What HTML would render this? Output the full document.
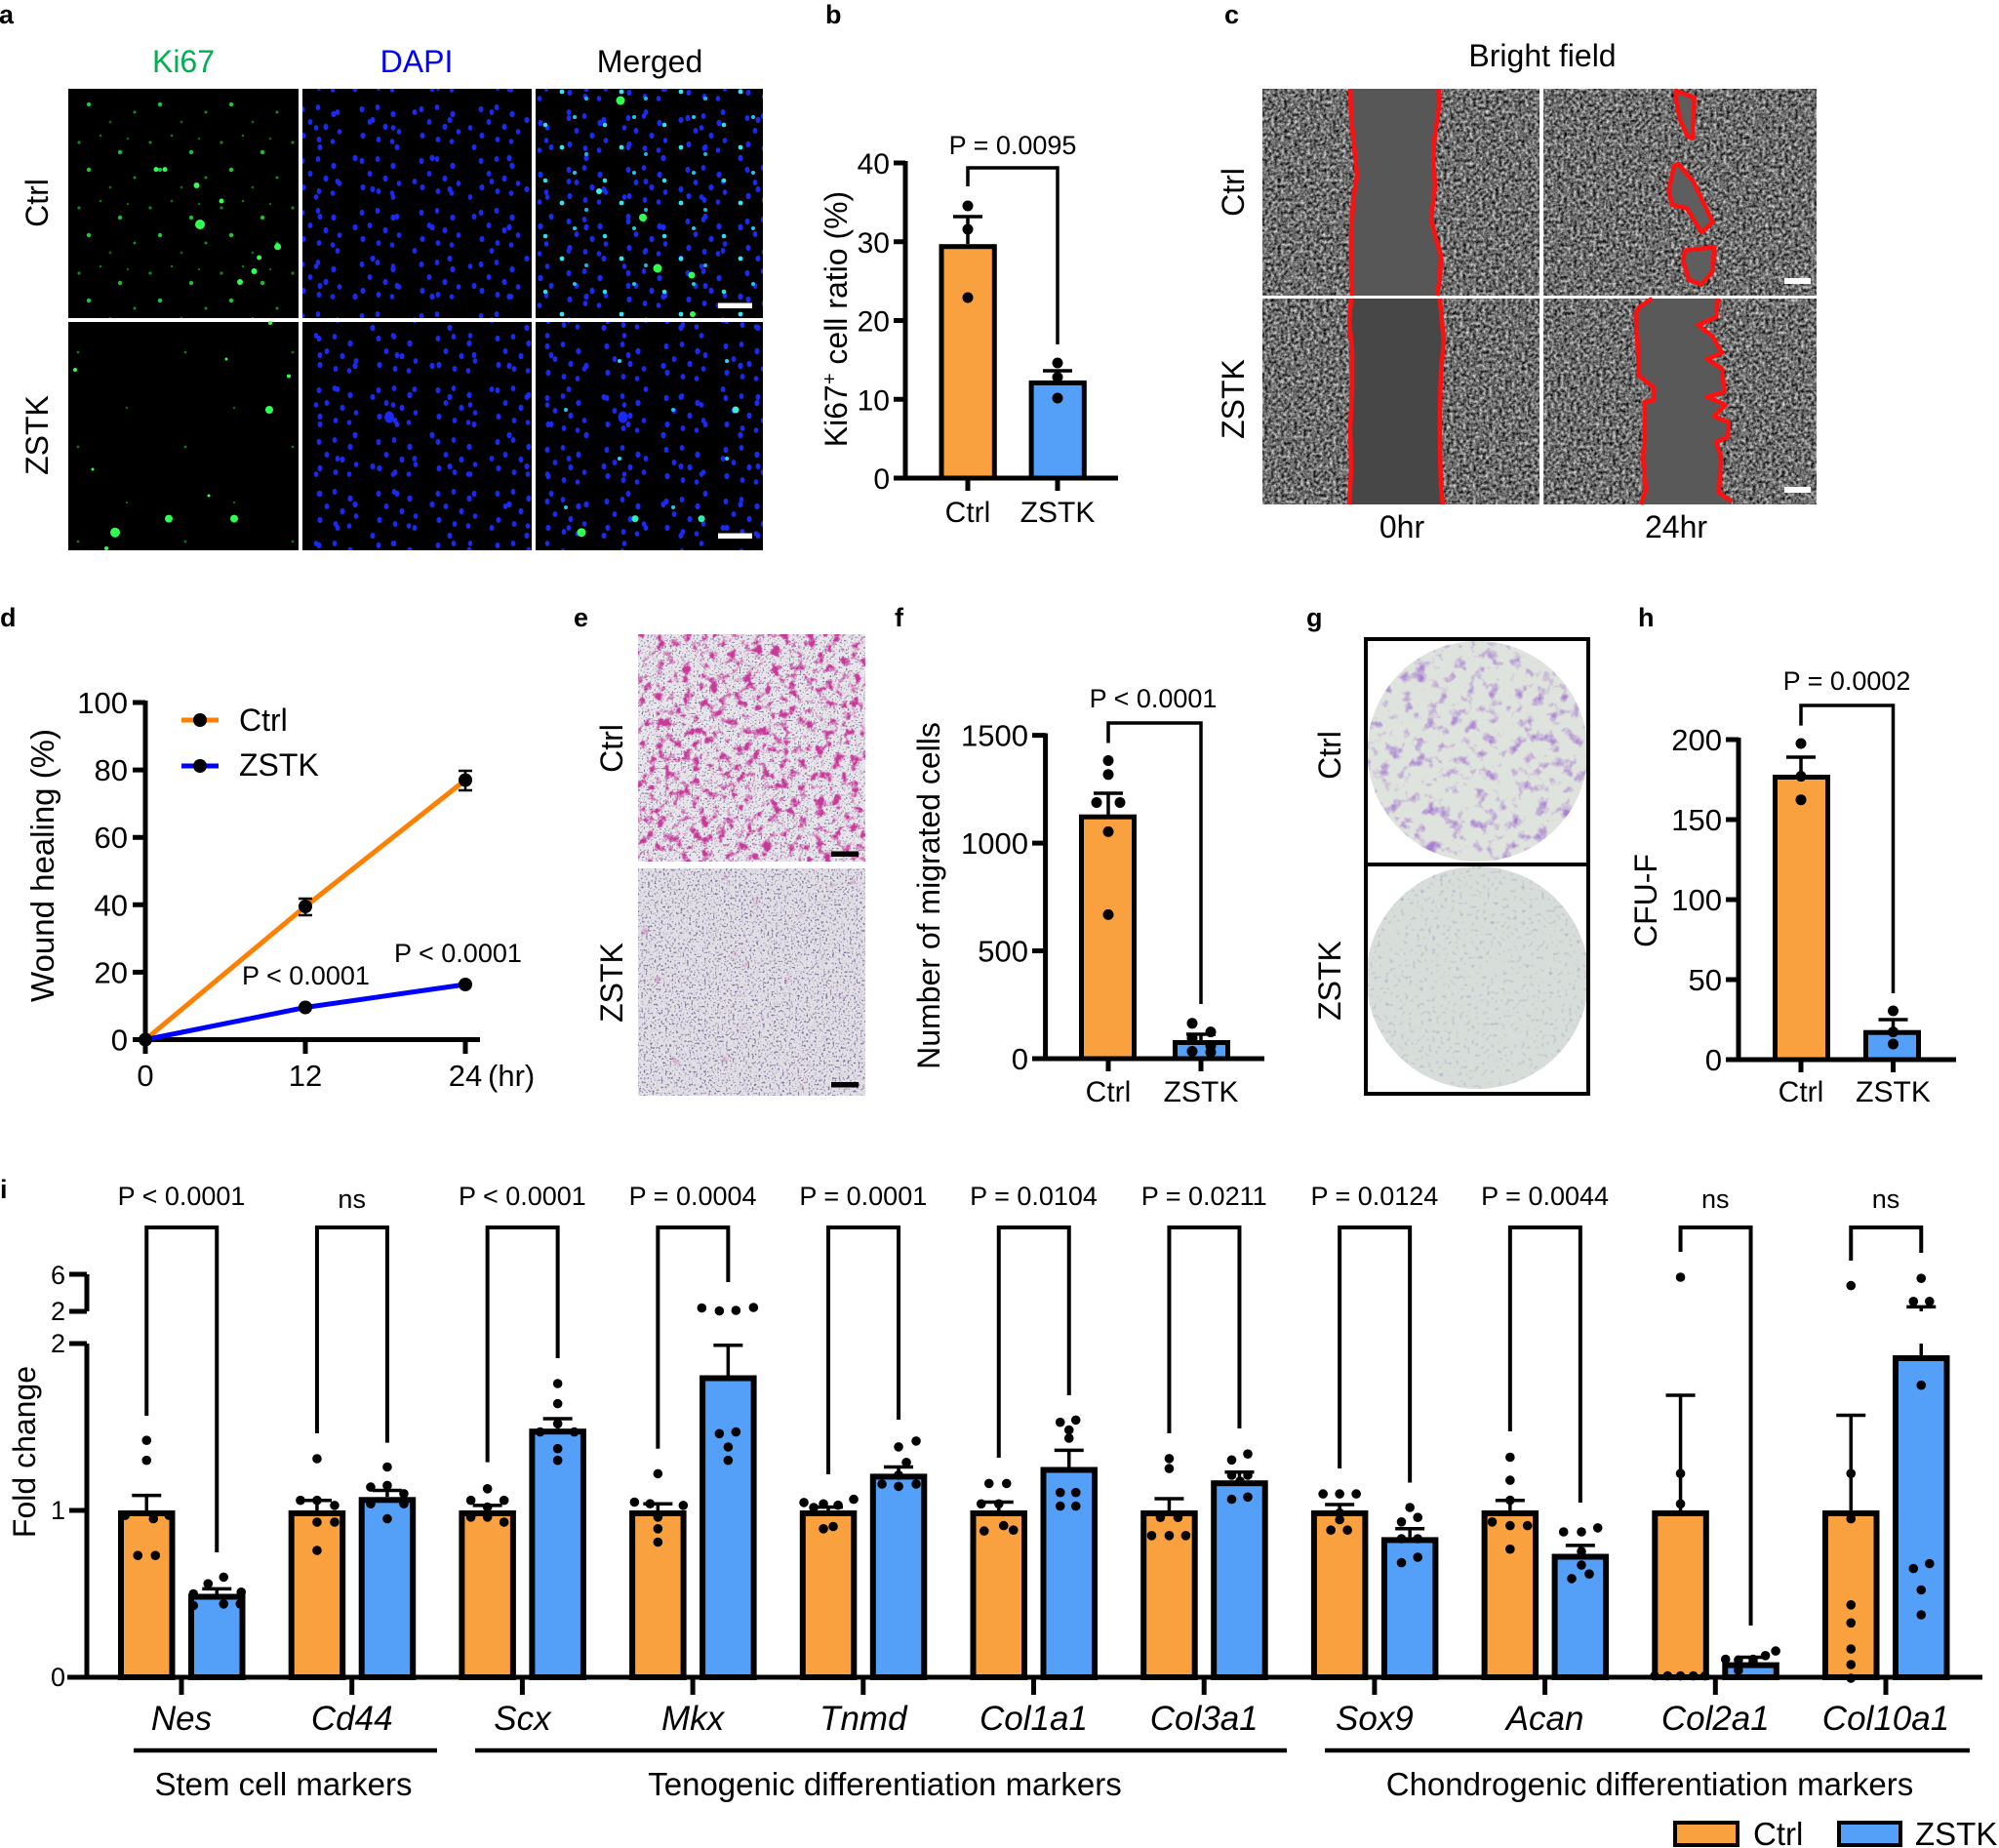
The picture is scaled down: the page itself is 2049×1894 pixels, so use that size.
<!DOCTYPE html>
<html><head><meta charset="utf-8"><style>
html,body{margin:0;padding:0;background:#fff;}
svg{display:block;}
text{font-family:"Liberation Sans",Arial,sans-serif;fill:#000;}
.L{font-weight:bold;font-size:27px;}
</style></head><body>
<svg width="2049" height="1894" viewBox="0 0 2049 1894" xmlns="http://www.w3.org/2000/svg">
<defs>
<filter id="fC" x="0" y="0" width="1" height="1" color-interpolation-filters="sRGB"><feTurbulence type="fractalNoise" baseFrequency="0.3" numOctaves="3" seed="4"/><feColorMatrix type="matrix" values="1.25 0 0 0 -0.2  1.25 0 0 0 -0.2  1.25 0 0 0 -0.2  0 0 0 0 1"/></filter>
<filter id="fE1" x="0" y="0" width="1" height="1" color-interpolation-filters="sRGB"><feTurbulence type="fractalNoise" baseFrequency="0.11" numOctaves="4" seed="9"/><feColorMatrix type="matrix" values="0 0 0 0 0.78  0 0 0 0 0.22  0 0 0 0 0.6  5 0 0 0 -2.6"/></filter>
<filter id="fS" x="0" y="0" width="1" height="1" color-interpolation-filters="sRGB"><feTurbulence type="fractalNoise" baseFrequency="0.55" numOctaves="1" seed="2"/><feColorMatrix type="matrix" values="0 0 0 0 0.45  0 0 0 0 0.45  0 0 0 0 0.55  6 0 0 0 -3.4"/></filter>
<filter id="fS2" x="0" y="0" width="1" height="1" color-interpolation-filters="sRGB"><feTurbulence type="fractalNoise" baseFrequency="0.45" numOctaves="2" seed="13"/><feColorMatrix type="matrix" values="0 0 0 0 0.5  0 0 0 0 0.45  0 0 0 0 0.6  5 0 0 0 -2.7"/></filter>
<filter id="fE2" x="0" y="0" width="1" height="1" color-interpolation-filters="sRGB"><feTurbulence type="fractalNoise" baseFrequency="0.06" numOctaves="2" seed="31"/><feColorMatrix type="matrix" values="0 0 0 0 0.82  0 0 0 0 0.5  0 0 0 0 0.75  5 0 0 0 -3.6"/></filter>
<filter id="fG" x="0" y="0" width="1" height="1" color-interpolation-filters="sRGB"><feTurbulence type="fractalNoise" baseFrequency="0.08" numOctaves="3" seed="21"/><feColorMatrix type="matrix" values="0 0 0 0 0.66  0 0 0 0 0.5  0 0 0 0 0.82  3.5 0 0 0 -1.85"/></filter>
<filter id="fG2" x="0" y="0" width="1" height="1" color-interpolation-filters="sRGB"><feTurbulence type="fractalNoise" baseFrequency="0.25" numOctaves="1" seed="5"/><feColorMatrix type="matrix" values="0 0 0 0 0.66  0 0 0 0 0.64  0 0 0 0 0.76  3 0 0 0 -1.75"/></filter>
<clipPath id="cg1"><circle cx="1514.5" cy="770" r="113"/></clipPath>
<clipPath id="cg2"><circle cx="1514.5" cy="1002" r="114"/></clipPath>
<g id="dd" fill="#1a2af0">
<ellipse cx="5" cy="6" rx="2.4" ry="3.1"/><ellipse cx="21" cy="4" rx="2.3" ry="3"/><ellipse cx="37" cy="11" rx="2.6" ry="3.2"/><ellipse cx="13" cy="19" rx="2.4" ry="3"/><ellipse cx="29" cy="24" rx="2.5" ry="3.2"/><ellipse cx="43" cy="29" rx="2.3" ry="2.9"/><ellipse cx="6" cy="33" rx="2.5" ry="3.1"/><ellipse cx="22" cy="37" rx="2.4" ry="3"/><ellipse cx="36" cy="39" rx="2.3" ry="2.8"/>
</g>
<g id="dd2" fill="#1a2af0">
<ellipse cx="12" cy="9" rx="2.4" ry="3.1"/><ellipse cx="48" cy="20" rx="2.6" ry="3.2"/><ellipse cx="30" cy="44" rx="2.4" ry="3"/><ellipse cx="66" cy="52" rx="2.5" ry="3.1"/><ellipse cx="8" cy="60" rx="2.3" ry="2.9"/>
</g>
<pattern id="pD" width="61" height="53" patternUnits="userSpaceOnUse"><use href="#dd"/></pattern>
<pattern id="pD2" width="61" height="53" patternUnits="userSpaceOnUse" patternTransform="translate(17,23)"><use href="#dd"/></pattern>
<pattern id="pD3" width="61" height="53" patternUnits="userSpaceOnUse" patternTransform="translate(29,9)"><use href="#dd"/></pattern>
<pattern id="pD4" width="61" height="53" patternUnits="userSpaceOnUse" patternTransform="translate(7,31)"><use href="#dd"/></pattern>
<pattern id="pE" width="79" height="71" patternUnits="userSpaceOnUse"><use href="#dd2"/></pattern>
<pattern id="pK" width="73" height="67" patternUnits="userSpaceOnUse">
<circle cx="8" cy="12" r="1.6" fill="#0a8a20"/><circle cx="30" cy="5" r="1.3" fill="#0c7a1c"/><circle cx="50" cy="22" r="2.2" fill="#18c030"/><circle cx="65" cy="48" r="1.5" fill="#0e8f22"/><circle cx="18" cy="40" r="2.2" fill="#1cc834"/><circle cx="40" cy="58" r="1.4" fill="#0a6a18"/><circle cx="58" cy="8" r="1.2" fill="#097018"/>
</pattern>
<pattern id="pK2" width="110" height="97" patternUnits="userSpaceOnUse">
<circle cx="20" cy="30" r="1.2" fill="#0a6a18"/><circle cx="80" cy="70" r="1.4" fill="#0c7a1c"/>
</pattern>
<pattern id="pC" width="61" height="57" patternUnits="userSpaceOnUse">
<circle cx="10" cy="14" r="2.3" fill="#28e0f0"/><circle cx="40" cy="6" r="2" fill="#20c8e8"/><circle cx="27" cy="37" r="2.4" fill="#30e8f0"/><circle cx="52" cy="44" r="2" fill="#1ab8e0"/>
</pattern>
<pattern id="pC2" width="110" height="100" patternUnits="userSpaceOnUse">
<circle cx="30" cy="20" r="2" fill="#20c8e8"/><circle cx="85" cy="70" r="2" fill="#28d8f0"/>
</pattern>
</defs>

<!-- panel letters -->
<text class="L" x="-1" y="24">a</text>
<text class="L" x="846" y="24">b</text>
<text class="L" x="1255" y="24">c</text>
<text class="L" x="0" y="642">d</text>
<text class="L" x="588" y="642">e</text>
<text class="L" x="917" y="642">f</text>
<text class="L" x="1339" y="642">g</text>
<text class="L" x="1679" y="642">h</text>
<text class="L" x="0" y="1228">i</text>

<!-- ===== Panel a ===== -->
<text x="188" y="74" font-size="32" text-anchor="middle" style="fill:#00b050">Ki67</text>
<text x="427" y="74" font-size="32" text-anchor="middle" style="fill:#0000ff">DAPI</text>
<text x="666" y="74" font-size="32" text-anchor="middle">Merged</text>
<text transform="translate(49,208) rotate(-90)" font-size="32" text-anchor="middle">Ctrl</text>
<text transform="translate(49,446) rotate(-90)" font-size="32" text-anchor="middle">ZSTK</text>
<rect x="70" y="91" width="236" height="235" fill="#000"/>
<rect x="310" y="91" width="235" height="235" fill="#000"/>
<rect x="549" y="91" width="233" height="235" fill="#000"/>
<rect x="70" y="330" width="236" height="234" fill="#000"/>
<rect x="310" y="330" width="235" height="234" fill="#000"/>
<rect x="549" y="330" width="233" height="234" fill="#000"/>
<rect x="70" y="91" width="236" height="235" fill="url(#pK)"/>
<rect x="70" y="330" width="236" height="234" fill="url(#pK2)"/>
<rect x="310" y="91" width="235" height="235" fill="url(#pD)"/>
<rect x="310" y="91" width="235" height="235" fill="url(#pE)"/>
<rect x="310" y="330" width="235" height="234" fill="url(#pD2)"/>
<rect x="310" y="330" width="235" height="234" fill="url(#pE)"/>
<rect x="549" y="91" width="233" height="235" fill="url(#pD3)"/>
<rect x="549" y="91" width="233" height="235" fill="url(#pE)"/>
<rect x="549" y="91" width="233" height="235" fill="url(#pC)"/>
<rect x="549" y="330" width="233" height="234" fill="url(#pD4)"/>
<rect x="549" y="330" width="233" height="234" fill="url(#pE)"/>
<rect x="549" y="330" width="233" height="234" fill="url(#pC2)"/>
<g fill="#30ff50">
<circle cx="205" cy="230" r="5"/><circle cx="284.6" cy="252.8" r="3.5"/><circle cx="246" cy="289" r="3"/><circle cx="260.5" cy="278" r="3"/><circle cx="201.5" cy="190" r="3"/><circle cx="160" cy="173.6" r="2.5"/><circle cx="169" cy="173.6" r="2.5"/><circle cx="227" cy="206" r="2.5"/><circle cx="265.6" cy="264" r="2.5"/>
<circle cx="276" cy="420" r="4"/><circle cx="173" cy="531.6" r="4"/><circle cx="240" cy="531.6" r="4"/><circle cx="118" cy="545.7" r="5"/><circle cx="77" cy="379" r="2"/><circle cx="296" cy="385.5" r="2"/><circle cx="232" cy="368" r="1.5"/><circle cx="95" cy="481" r="1.5"/><circle cx="214" cy="508" r="1.5"/><circle cx="277" cy="331" r="2"/><circle cx="109" cy="562" r="2"/>
<circle cx="636" cy="103" r="4.5"/><circle cx="659" cy="223" r="4"/><circle cx="674" cy="275" r="4.5"/><circle cx="709" cy="282" r="3.5"/><circle cx="710" cy="322" r="3"/>
<circle cx="596" cy="545.7" r="4.5"/><circle cx="651" cy="531.6" r="3.5" fill="#30f0b0"/><circle cx="719" cy="531.6" r="3.5" fill="#30f0b0"/><circle cx="754" cy="420" r="3.5" fill="#40f0d0"/><circle cx="614" cy="196" r="3" fill="#40f0e0"/>
</g>
<ellipse cx="399" cy="427.5" rx="5" ry="6" fill="#1a2af0"/>
<ellipse cx="638.5" cy="427.5" rx="5" ry="6" fill="#1a2af0"/>
<rect x="736" y="310.5" width="35" height="5.5" fill="#fff"/>
<rect x="736" y="546.5" width="35" height="5.5" fill="#fff"/>

<!-- ===== Panel b ===== -->
<text x="1038" y="158" font-size="27" text-anchor="middle">P = 0.0095</text>
<path d="M992,191 V172 H1084 V353" stroke="#000" stroke-width="3.5" fill="none"/>
<rect x="965" y="252.7" width="54.3" height="237.3" fill="#f9a03f" stroke="#000" stroke-width="5"/>
<rect x="1057.1" y="392.4" width="54.2" height="97.6" fill="#54a0f8" stroke="#000" stroke-width="5"/>
<g stroke="#000" stroke-width="3.5" fill="none">
<path d="M992,250 V222 M977,222 H1007 M1084,390 V380 M1069,380 H1099"/>
</g>
<g fill="#000"><circle cx="992" cy="211" r="5.5"/><circle cx="992" cy="235" r="5.5"/><circle cx="992" cy="305" r="5.5"/><circle cx="1084" cy="372" r="5.5"/><circle cx="1084" cy="386.6" r="5.5"/><circle cx="1084" cy="408" r="5.5"/></g>
<g stroke="#000" stroke-width="5" fill="none">
<path d="M928,165 V492 M926,490 H1146"/>
<path d="M916,167H928 M916,247.75H928 M916,328.5H928 M916,409.25H928 M916,490H928 M992,490V503 M1084,490V503"/>
</g>
<g font-size="30" text-anchor="end">
<text x="912" y="178">40</text><text x="912" y="258.75">30</text><text x="912" y="339.5">20</text><text x="912" y="420.25">10</text><text x="912" y="501">0</text>
</g>
<text x="992" y="535" font-size="30" text-anchor="middle">Ctrl</text>
<text x="1084" y="535" font-size="30" text-anchor="middle">ZSTK</text>
<text transform="translate(868,327) rotate(-90)" font-size="32" text-anchor="middle">Ki67<tspan baseline-shift="super" font-size="20">+</tspan> cell ratio (%)</text>

<!-- ===== Panel c ===== -->
<text x="1581" y="68" font-size="32" text-anchor="middle">Bright field</text>
<text transform="translate(1275,197) rotate(-90)" font-size="32" text-anchor="middle">Ctrl</text>
<text transform="translate(1275,409) rotate(-90)" font-size="32" text-anchor="middle">ZSTK</text>
<rect x="1294" y="91" width="284" height="212" filter="url(#fC)"/>
<rect x="1582" y="91" width="280" height="212" filter="url(#fC)"/>
<rect x="1294" y="306" width="284" height="211" filter="url(#fC)"/>
<rect x="1582" y="306" width="280" height="211" filter="url(#fC)"/>
<path d="M1384,91 L1385,120 L1388,150 L1391,180 L1387,205 L1385,240 L1385,275 L1386,303 L1473,303 L1476,285 L1477,262 L1472,245 L1467,225 L1471,190 L1469,165 L1470,145 L1475,110 L1474.7,91 Z" fill="#575757"/>
<path d="M1385,306 L1383,330 L1386,360 L1386,400 L1384,440 L1385,480 L1383,517 L1479,517 L1477,500 L1476,460 L1476,420 L1477,380 L1480,350 L1478,330 L1476,306 Z" fill="#474747"/>
<path d="M1693.5,306 L1680,315 L1676.6,322 L1678.5,351.7 L1680,385 L1694.6,396.7 L1695.4,410 L1686,411.7 L1686,451.7 L1684,468 L1687,501.7 L1682,517 L1775,517 L1775,514 L1762,505 L1764,468 L1759,453 L1770.5,448 L1772,433 L1757,426.7 L1768.6,415 L1750,406.7 L1767.5,401.7 L1765,378 L1750,368 L1765,361.7 L1755.5,345 L1740.5,333 L1759,325 L1761,306 Z" fill="#595959"/>
<g fill="#5e5e5e" stroke="#ff1010" stroke-width="4.5" stroke-linejoin="round">
<path d="M1718,93 L1736.7,100 L1734.8,141.7 L1730,140 L1721.7,121.7 L1718,101.7 Z"/>
<path d="M1716,170 L1710.4,195 L1714,210 L1729,213.3 L1744,238 L1755.5,228 L1748,211.7 L1735,185 L1720,168 Z"/>
<path d="M1727,256.7 L1757,253.3 L1755.5,278 L1744,291.7 L1731,286.7 L1725.4,268 Z"/>
</g>
<g fill="none" stroke="#ff1010" stroke-width="4.5" stroke-linejoin="round">
<path d="M1384,91 L1385,120 L1388,150 L1391,180 L1387,205 L1385,240 L1385,275 L1386,303"/>
<path d="M1474.7,91 L1475,110 L1470,145 L1469,165 L1471,190 L1467,225 L1472,245 L1477,262 L1476,285 L1473,303"/>
<path d="M1385,306 L1383,330 L1386,360 L1386,400 L1384,440 L1385,480 L1383,517"/>
<path d="M1476,306 L1478,330 L1480,350 L1477,380 L1476,420 L1476,460 L1477,500 L1479,517"/>
<path d="M1693.5,306 L1680,315 L1676.6,322 L1678.5,351.7 L1680,385 L1694.6,396.7 L1695.4,410 L1686,411.7 L1686,451.7 L1684,468 L1687,501.7 L1682,517"/>
<path d="M1761,306 L1759,325 L1740.5,333 L1755.5,345 L1765,361.7 L1750,368 L1765,378 L1767.5,401.7 L1750,406.7 L1768.6,415 L1757,426.7 L1772,433 L1770.5,448 L1759,453 L1764,468 L1762,505 L1775,514"/>
</g>
<rect x="1829" y="285" width="27" height="6" fill="#fff"/>
<rect x="1829" y="499" width="27" height="6" fill="#fff"/>
<text x="1437" y="551" font-size="32" text-anchor="middle">0hr</text>
<text x="1718" y="551" font-size="32" text-anchor="middle">24hr</text>

<!-- ===== Panel d ===== -->
<text transform="translate(55,887) rotate(-90)" font-size="33" text-anchor="middle">Wound healing (%)</text>
<g stroke="#000" stroke-width="5" fill="none">
<path d="M149,718 V1067.5 M147,1065.5 H492"/>
<path d="M136,720H149 M136,789.1H149 M136,858.2H149 M136,927.3H149 M136,996.4H149 M136,1065.5H149 M149,1065.5V1080 M313,1065.5V1080 M477,1065.5V1080"/>
</g>
<g font-size="31" text-anchor="end">
<text x="131" y="731">100</text><text x="131" y="800.1">80</text><text x="131" y="869.2">60</text><text x="131" y="938.3">40</text><text x="131" y="1007.4">20</text><text x="131" y="1076.5">0</text>
</g>
<g font-size="31" text-anchor="middle">
<text x="149" y="1113">0</text><text x="313" y="1113">12</text><text x="477" y="1113">24</text>
</g>
<text x="500" y="1113" font-size="31">(hr)</text>
<polyline points="149,1065.5 313,929 477,799.5" fill="none" stroke="#ff7f00" stroke-width="5"/>
<polyline points="149,1065.5 313,1032.5 477,1009" fill="none" stroke="#0000ff" stroke-width="5"/>
<g stroke="#000" stroke-width="2.5" fill="none">
<path d="M313,921V938 M306,921H320 M306,938H320 M477,790V810 M470,790H484 M470,810H484"/>
</g>
<g fill="#000"><circle cx="149" cy="1065.5" r="7"/><circle cx="313" cy="929" r="7"/><circle cx="477" cy="799.5" r="7"/><circle cx="313" cy="1032.5" r="7"/><circle cx="477" cy="1009" r="7"/></g>
<path d="M186,738H224" stroke="#ff7f00" stroke-width="5"/><circle cx="205" cy="738" r="7"/>
<path d="M186,785H224" stroke="#0000ff" stroke-width="5"/><circle cx="205" cy="785" r="7"/>
<text x="245" y="749" font-size="32">Ctrl</text>
<text x="245" y="795" font-size="32">ZSTK</text>
<text x="248" y="1009" font-size="27">P &lt; 0.0001</text>
<text x="404" y="986" font-size="27">P &lt; 0.0001</text>

<!-- ===== Panel e ===== -->
<text transform="translate(638,767) rotate(-90)" font-size="32" text-anchor="middle">Ctrl</text>
<text transform="translate(638,1007) rotate(-90)" font-size="32" text-anchor="middle">ZSTK</text>
<rect x="654" y="650" width="233" height="233" fill="#e9e5ec"/>
<rect x="654" y="650" width="233" height="233" filter="url(#fS)"/>
<rect x="654" y="650" width="233" height="233" filter="url(#fE1)"/>
<rect x="654" y="890" width="233" height="233" fill="#e2e0e6"/>
<rect x="654" y="890" width="233" height="233" filter="url(#fS2)"/>
<rect x="654" y="890" width="233" height="233" filter="url(#fE2)"/>
<rect x="852" y="872.5" width="28" height="5.5" fill="#000"/>
<rect x="852" y="1109" width="28" height="5.5" fill="#000"/>

<!-- ===== Panel f ===== -->
<text transform="translate(963,918) rotate(-90)" font-size="32" text-anchor="middle">Number of migrated cells</text>
<text x="1182" y="725" font-size="27" text-anchor="middle">P &lt; 0.0001</text>
<path d="M1136,761.5 V741 H1231 V1029" stroke="#000" stroke-width="3.5" fill="none"/>
<rect x="1108.5" y="837.2" width="54" height="247.8" fill="#f9a03f" stroke="#000" stroke-width="5"/>
<rect x="1204.5" y="1068.5" width="54" height="16.5" fill="#54a0f8" stroke="#000" stroke-width="5"/>
<g stroke="#000" stroke-width="3.5" fill="none">
<path d="M1136,835 V813 M1121,813 H1151 M1231,1066 V1060 M1216,1060 H1246"/>
</g>
<g fill="#000">
<circle cx="1136" cy="779.5" r="5.5"/><circle cx="1136" cy="793.8" r="5.5"/><circle cx="1124" cy="822.5" r="5.5"/><circle cx="1148" cy="822.5" r="5.5"/><circle cx="1136" cy="852.4" r="5.5"/><circle cx="1136" cy="937.4" r="5.5"/>
<circle cx="1222" cy="1048.8" r="5.5"/><circle cx="1241" cy="1057.6" r="5.5"/><circle cx="1222" cy="1064" r="5.5"/><circle cx="1241" cy="1071.7" r="5.5"/><circle cx="1222" cy="1077.5" r="5.5"/><circle cx="1241" cy="1078.4" r="5.5"/>
</g>
<g stroke="#000" stroke-width="5" fill="none">
<path d="M1071.6,751.5 V1087 M1069.5,1085 H1296"/>
<path d="M1058,753.6H1071.6 M1058,864.1H1071.6 M1058,974.5H1071.6 M1058,1085H1071.6 M1136,1085V1098 M1231,1085V1098"/>
</g>
<g font-size="31" text-anchor="end">
<text x="1054" y="764.6">1500</text><text x="1054" y="875.1">1000</text><text x="1054" y="985.5">500</text><text x="1054" y="1096">0</text>
</g>
<text x="1136" y="1129" font-size="30" text-anchor="middle">Ctrl</text>
<text x="1231" y="1129" font-size="30" text-anchor="middle">ZSTK</text>

<!-- ===== Panel g ===== -->
<text transform="translate(1374,774) rotate(-90)" font-size="32" text-anchor="middle">Ctrl</text>
<text transform="translate(1374,1005) rotate(-90)" font-size="32" text-anchor="middle">ZSTK</text>
<circle cx="1514.5" cy="770" r="113" fill="#dfe3dd"/>
<g clip-path="url(#cg1)"><rect x="1400" y="656" width="230" height="230" filter="url(#fG)"/></g>
<circle cx="1514.5" cy="1002" r="114" fill="#d7ddd9"/>
<g clip-path="url(#cg2)"><rect x="1399" y="887" width="232" height="232" filter="url(#fG2)"/></g>
<rect x="1400" y="655" width="228" height="466" fill="none" stroke="#000" stroke-width="4"/>
<path d="M1398,886 H1630" stroke="#000" stroke-width="4"/>

<!-- ===== Panel h ===== -->
<text transform="translate(1698,923) rotate(-90)" font-size="32" text-anchor="middle">CFU-F</text>
<text x="1893" y="707" font-size="27" text-anchor="middle">P = 0.0002</text>
<path d="M1846,743.6 V723 H1940.5 V1018" stroke="#000" stroke-width="3.5" fill="none"/>
<rect x="1819.5" y="796.5" width="54" height="289.5" fill="#f9a03f" stroke="#000" stroke-width="5"/>
<rect x="1912.5" y="1058.2" width="54" height="27.8" fill="#54a0f8" stroke="#000" stroke-width="5"/>
<g stroke="#000" stroke-width="3.5" fill="none">
<path d="M1846,794 V776 M1831,776 H1861 M1940.5,1056 V1045 M1925.5,1045 H1955.5"/>
</g>
<g fill="#000">
<circle cx="1846" cy="762" r="5.5"/><circle cx="1846" cy="795.6" r="5.5"/><circle cx="1846" cy="819.7" r="5.5"/>
<circle cx="1940.5" cy="1036" r="5.5"/><circle cx="1940.5" cy="1057.6" r="5.5"/><circle cx="1940.5" cy="1070" r="5.5"/>
</g>
<g stroke="#000" stroke-width="5" fill="none">
<path d="M1782,756 V1088 M1780,1086 H2005"/>
<path d="M1769,758H1782 M1769,840H1782 M1769,922H1782 M1769,1004H1782 M1769,1086H1782 M1846,1086V1099 M1940.5,1086V1099"/>
</g>
<g font-size="31" text-anchor="end">
<text x="1765" y="769">200</text><text x="1765" y="851">150</text><text x="1765" y="933">100</text><text x="1765" y="1015">50</text><text x="1765" y="1097">0</text>
</g>
<text x="1846" y="1129" font-size="30" text-anchor="middle">Ctrl</text>
<text x="1940.5" y="1129" font-size="30" text-anchor="middle">ZSTK</text>

<!-- ===== Panel i ===== -->
<text transform="translate(36,1488) rotate(-90)" font-size="32" text-anchor="middle">Fold change</text>
<g font-size="27" text-anchor="middle">
<text x="186" y="1235">P &lt; 0.0001</text>
<text x="360.7" y="1238">ns</text>
<text x="535.4" y="1235">P &lt; 0.0001</text>
<text x="710.1" y="1235">P = 0.0004</text>
<text x="884.8" y="1235">P = 0.0001</text>
<text x="1059.5" y="1235">P = 0.0104</text>
<text x="1234.2" y="1235">P = 0.0211</text>
<text x="1408.9" y="1235">P = 0.0124</text>
<text x="1583.6" y="1235">P = 0.0044</text>
<text x="1758.3" y="1238">ns</text>
<text x="1933" y="1238">ns</text>
</g>
<g stroke="#000" stroke-width="4" fill="none">
<path d="M150.25,1451 V1258 H222.25 V1591"/>
<path d="M324.95,1469 V1258 H396.95 V1478.6"/>
<path d="M499.65,1498.6 V1258 H571.65 V1392"/>
<path d="M674.35,1484.7 V1258 H746.35 V1314"/>
<path d="M849.05,1511 V1258 H921.05 V1455"/>
<path d="M1023.75,1494 V1258 H1095.75 V1430"/>
<path d="M1198.45,1469 V1258 H1270.45 V1464"/>
<path d="M1373.15,1505 V1258 H1445.15 V1519.5"/>
<path d="M1547.85,1467 V1258 H1619.85 V1540"/>
<path d="M1722.55,1283 V1258 H1794.55 V1666"/>
<path d="M1897.25,1292 V1258 H1969.25 V1284"/>
</g>
<g stroke="#000" stroke-width="6">
<g fill="#f9a03f">
<rect x="124" y="1551" width="52.5" height="168"/>
<rect x="298.7" y="1551" width="52.5" height="168"/>
<rect x="473.4" y="1551" width="52.5" height="168"/>
<rect x="648.1" y="1551" width="52.5" height="168"/>
<rect x="822.8" y="1551" width="52.5" height="168"/>
<rect x="997.5" y="1551" width="52.5" height="168"/>
<rect x="1172.2" y="1551" width="52.5" height="168"/>
<rect x="1346.9" y="1551" width="52.5" height="168"/>
<rect x="1521.6" y="1551" width="52.5" height="168"/>
<rect x="1696.3" y="1551" width="52.5" height="168"/>
<rect x="1871" y="1551" width="52.5" height="168"/>
</g>
<g fill="#54a0f8">
<rect x="196" y="1636.5" width="52.5" height="82.5"/>
<rect x="370.7" y="1537.3" width="52.5" height="181.7"/>
<rect x="545.4" y="1467.2" width="52.5" height="251.8"/>
<rect x="720.1" y="1412.5" width="52.5" height="306.5"/>
<rect x="894.8" y="1513.4" width="52.5" height="205.6"/>
<rect x="1069.5" y="1506.5" width="52.5" height="212.5"/>
<rect x="1244.2" y="1520.2" width="52.5" height="198.8"/>
<rect x="1418.9" y="1578.4" width="52.5" height="140.6"/>
<rect x="1593.6" y="1595.5" width="52.5" height="123.5"/>
<rect x="1768.3" y="1706.6" width="52.5" height="12.4"/>
<rect x="1943" y="1392" width="52.5" height="327"/>
</g>
</g>
<g stroke="#000" stroke-width="3.5" fill="none">
<path d="M150.25,1548V1532.6 M135.25,1532.6H165.25 M222.25,1633.5V1628.4 M207.25,1628.4H237.25"/>
<path d="M324.95,1548V1537.7 M309.95,1537.7H339.95 M396.95,1534.3V1527.5 M381.95,1527.5H411.95"/>
<path d="M499.65,1548V1542.9 M484.65,1542.9H514.65 M571.65,1464.2V1454 M556.65,1454H586.65"/>
<path d="M674.35,1548V1541.2 M659.35,1541.2H689.35 M746.35,1409.5V1378.7 M731.35,1378.7H761.35"/>
<path d="M849.05,1548V1544.6 M834.05,1544.6H864.05 M921.05,1510.4V1503.5 M906.05,1503.5H936.05"/>
<path d="M1023.75,1548V1539.5 M1008.75,1539.5H1038.75 M1095.75,1503.5V1486.4 M1080.75,1486.4H1110.75"/>
<path d="M1198.45,1548V1536 M1183.45,1536H1213.45 M1270.45,1517.2V1508.7 M1255.45,1508.7H1285.45"/>
<path d="M1373.15,1548V1542 M1358.15,1542H1388.15 M1445.15,1575.4V1566.8 M1430.15,1566.8H1460.15"/>
<path d="M1547.85,1548V1537.7 M1532.85,1537.7H1562.85 M1619.85,1592.5V1583.9 M1604.85,1583.9H1634.85"/>
<path d="M1722.55,1548V1430 M1707.55,1430H1737.55 M1794.55,1703.6V1698.5 M1779.55,1698.5H1809.55"/>
<path d="M1897.25,1548V1450.5 M1882.25,1450.5H1912.25 M1969.25,1389V1377 M1969.25,1344V1339.4 M1954.25,1339.4H1984.25"/>
</g>
<g fill="#000">
<circle cx="150.25" cy="1476.2" r="4.8"/><circle cx="150.25" cy="1496.7" r="4.8"/><circle cx="128.25" cy="1553.1" r="4.8"/><circle cx="157.25" cy="1556.5" r="4.8"/><circle cx="173.25" cy="1553.1" r="4.8"/><circle cx="141.25" cy="1594.2" r="4.8"/><circle cx="159.25" cy="1594.2" r="4.8"/>
<circle cx="229.25" cy="1616.4" r="4.8"/><circle cx="213.25" cy="1623.2" r="4.8"/><circle cx="198.25" cy="1633.5" r="4.8"/><circle cx="247.25" cy="1631.8" r="4.8"/><circle cx="229.25" cy="1643.8" r="4.8"/><circle cx="198.25" cy="1645.5" r="4.8"/><circle cx="246.25" cy="1643.8" r="4.8"/>
<circle cx="324.95" cy="1495" r="4.8"/><circle cx="307.95" cy="1537.7" r="4.8"/><circle cx="324.95" cy="1537.7" r="4.8"/><circle cx="342.95" cy="1542.9" r="4.8"/><circle cx="324.95" cy="1560" r="4.8"/><circle cx="342.95" cy="1560" r="4.8"/><circle cx="324.95" cy="1589" r="4.8"/>
<circle cx="396.95" cy="1503.5" r="4.8"/><circle cx="379.95" cy="1524.1" r="4.8"/><circle cx="396.95" cy="1522.4" r="4.8"/><circle cx="413.95" cy="1530.9" r="4.8"/><circle cx="379.95" cy="1541.2" r="4.8"/><circle cx="413.95" cy="1541.2" r="4.8"/><circle cx="396.95" cy="1556.6" r="4.8"/>
<circle cx="499.65" cy="1525.8" r="4.8"/><circle cx="482.65" cy="1537.7" r="4.8"/><circle cx="516.65" cy="1537.7" r="4.8"/><circle cx="482.65" cy="1554.8" r="4.8"/><circle cx="499.65" cy="1554.8" r="4.8"/><circle cx="516.65" cy="1560" r="4.8"/><circle cx="499.65" cy="1544.6" r="4.8"/>
<circle cx="571.65" cy="1418" r="4.8"/><circle cx="571.65" cy="1438.6" r="4.8"/><circle cx="571.65" cy="1459.1" r="4.8"/><circle cx="553.65" cy="1467.6" r="4.8"/><circle cx="588.65" cy="1467.6" r="4.8"/><circle cx="571.65" cy="1484.7" r="4.8"/><circle cx="571.65" cy="1496.7" r="4.8"/>
<circle cx="674.35" cy="1510.4" r="4.8"/><circle cx="650.35" cy="1539.5" r="4.8"/><circle cx="666.35" cy="1541.2" r="4.8"/><circle cx="700.35" cy="1542.9" r="4.8"/><circle cx="674.35" cy="1554.8" r="4.8"/><circle cx="674.35" cy="1566.8" r="4.8"/><circle cx="674.35" cy="1580.5" r="4.8"/>
<circle cx="719.35" cy="1340.5" r="4.8"/><circle cx="737.35" cy="1343.5" r="4.8"/><circle cx="754.35" cy="1343" r="4.8"/><circle cx="772.35" cy="1340" r="4.8"/><circle cx="737.35" cy="1469.3" r="4.8"/><circle cx="754.35" cy="1467.6" r="4.8"/><circle cx="746.35" cy="1483" r="4.8"/><circle cx="746.35" cy="1496.7" r="4.8"/>
<circle cx="824.05" cy="1539.9" r="4.8"/><circle cx="844.05" cy="1541.3" r="4.8"/><circle cx="859.05" cy="1542.7" r="4.8"/><circle cx="875.05" cy="1536.6" r="4.8"/><circle cx="844.05" cy="1566.8" r="4.8"/><circle cx="854.05" cy="1564.5" r="4.8"/><circle cx="834.05" cy="1545" r="4.8"/>
<circle cx="939.05" cy="1476.9" r="4.8"/><circle cx="921.05" cy="1482.9" r="4.8"/><circle cx="929.05" cy="1498.8" r="4.8"/><circle cx="904.05" cy="1521" r="4.8"/><circle cx="921.05" cy="1511.8" r="4.8"/><circle cx="939.05" cy="1521" r="4.8"/><circle cx="921.05" cy="1523.4" r="4.8"/>
<circle cx="1013.75" cy="1520.4" r="4.8"/><circle cx="1031.75" cy="1520.4" r="4.8"/><circle cx="1005.75" cy="1541.3" r="4.8"/><circle cx="1023.75" cy="1541.3" r="4.8"/><circle cx="1028.75" cy="1563.6" r="4.8"/><circle cx="1008.75" cy="1569.1" r="4.8"/><circle cx="1038.75" cy="1568.2" r="4.8"/>
<circle cx="1086.75" cy="1457.7" r="4.8"/><circle cx="1102.75" cy="1455.4" r="4.8"/><circle cx="1095.75" cy="1465.6" r="4.8"/><circle cx="1095.75" cy="1474" r="4.8"/><circle cx="1086.75" cy="1529.7" r="4.8"/><circle cx="1102.75" cy="1529.7" r="4.8"/><circle cx="1086.75" cy="1543.6" r="4.8"/><circle cx="1102.75" cy="1543.6" r="4.8"/>
<circle cx="1198.45" cy="1494.9" r="4.8"/><circle cx="1198.45" cy="1505.1" r="4.8"/><circle cx="1180.45" cy="1573.8" r="4.8"/><circle cx="1198.45" cy="1573.8" r="4.8"/><circle cx="1215.45" cy="1573.8" r="4.8"/><circle cx="1189.45" cy="1555.2" r="4.8"/><circle cx="1207.45" cy="1555.2" r="4.8"/>
<circle cx="1279" cy="1490.2" r="4.8"/><circle cx="1262.5" cy="1496.3" r="4.8"/><circle cx="1262.5" cy="1512" r="4.8"/><circle cx="1279" cy="1512" r="4.8"/><circle cx="1271" cy="1518" r="4.8"/><circle cx="1262.5" cy="1536.6" r="4.8"/><circle cx="1279" cy="1534.3" r="4.8"/>
<circle cx="1356.15" cy="1531.1" r="4.8"/><circle cx="1373.15" cy="1531.1" r="4.8"/><circle cx="1390.15" cy="1531.1" r="4.8"/><circle cx="1373.15" cy="1550.6" r="4.8"/><circle cx="1364.15" cy="1568.2" r="4.8"/><circle cx="1381.15" cy="1568.2" r="4.8"/><circle cx="1373.15" cy="1557.5" r="4.8"/>
<circle cx="1445.15" cy="1545" r="4.8"/><circle cx="1436.5" cy="1559.8" r="4.8"/><circle cx="1453.2" cy="1555.2" r="4.8"/><circle cx="1436.5" cy="1577" r="4.8"/><circle cx="1453.2" cy="1577" r="4.8"/><circle cx="1436.5" cy="1601.6" r="4.8"/><circle cx="1453.2" cy="1596" r="4.8"/>
<circle cx="1547.85" cy="1493.5" r="4.8"/><circle cx="1547.85" cy="1517.1" r="4.8"/><circle cx="1547.85" cy="1537.6" r="4.8"/><circle cx="1529.5" cy="1559.8" r="4.8"/><circle cx="1547.85" cy="1563.6" r="4.8"/><circle cx="1565.7" cy="1563.6" r="4.8"/><circle cx="1547.85" cy="1587.7" r="4.8"/>
<circle cx="1602.7" cy="1570" r="4.8"/><circle cx="1621" cy="1570" r="4.8"/><circle cx="1637.7" cy="1565.9" r="4.8"/><circle cx="1621" cy="1590" r="4.8"/><circle cx="1611" cy="1617.9" r="4.8"/><circle cx="1629" cy="1613.2" r="4.8"/><circle cx="1621" cy="1604" r="4.8"/>
<circle cx="1722.55" cy="1309" r="4.8"/><circle cx="1722.55" cy="1510.2" r="4.8"/><circle cx="1722.55" cy="1541.3" r="4.8"/><circle cx="1696.1" cy="1717.6" r="4.8"/><circle cx="1709.3" cy="1717.6" r="4.8"/><circle cx="1722.5" cy="1717.6" r="4.8"/><circle cx="1735.7" cy="1717.6" r="4.8"/><circle cx="1747.6" cy="1717.6" r="4.8"/>
<circle cx="1768.7" cy="1700.5" r="4.8"/><circle cx="1781.9" cy="1701.4" r="4.8"/><circle cx="1797" cy="1700.5" r="4.8"/><circle cx="1809.6" cy="1696.8" r="4.8"/><circle cx="1820.1" cy="1692.1" r="4.8"/><circle cx="1781.9" cy="1712" r="4.8"/><circle cx="1797" cy="1703.7" r="4.8"/>
<circle cx="1897.25" cy="1317.6" r="4.8"/><circle cx="1897.25" cy="1510.2" r="4.8"/><circle cx="1897.25" cy="1556.6" r="4.8"/><circle cx="1897.25" cy="1644.8" r="4.8"/><circle cx="1897.25" cy="1663.3" r="4.8"/><circle cx="1897.25" cy="1690" r="4.8"/><circle cx="1897.25" cy="1706" r="4.8"/><circle cx="1897.25" cy="1720" r="4.8"/>
<circle cx="1969.25" cy="1310.2" r="4.8"/><circle cx="1961.3" cy="1333.8" r="4.8"/><circle cx="1977.8" cy="1333.8" r="4.8"/><circle cx="1969.25" cy="1419.7" r="4.8"/><circle cx="1961.3" cy="1607.6" r="4.8"/><circle cx="1977.8" cy="1602.5" r="4.8"/><circle cx="1969.25" cy="1629.5" r="4.8"/><circle cx="1969.25" cy="1655" r="4.8"/>
</g>
<g stroke="#000" stroke-width="5" fill="none">
<path d="M89,1306 V1344 M89,1377 V1721 M69,1719 H2032"/>
<path d="M71,1306H89 M71,1344H89 M71,1377H89 M71,1548H89 M71,1719H89"/>
<path d="M186,1719V1737 M360.7,1719V1737 M535.4,1719V1737 M710.1,1719V1737 M884.8,1719V1737 M1059.5,1719V1737 M1234.2,1719V1737 M1408.9,1719V1737 M1583.6,1719V1737 M1758.3,1719V1737 M1933,1719V1737"/>
</g>
<g font-size="27" text-anchor="end">
<text x="67" y="1316">6</text><text x="67" y="1353">2</text><text x="67" y="1386">2</text><text x="67" y="1557">1</text><text x="67" y="1728">0</text>
</g>
<g font-size="35" font-style="italic" text-anchor="middle">
<text x="186" y="1773">Nes</text><text x="360.7" y="1773">Cd44</text><text x="535.4" y="1773">Scx</text><text x="710.1" y="1773">Mkx</text><text x="884.8" y="1773">Tnmd</text><text x="1059.5" y="1773">Col1a1</text><text x="1234.2" y="1773">Col3a1</text><text x="1408.9" y="1773">Sox9</text><text x="1583.6" y="1773">Acan</text><text x="1758.3" y="1773">Col2a1</text><text x="1933" y="1773">Col10a1</text>
</g>
<path d="M137,1794H448 M487,1794H1319 M1358,1794H2019" stroke="#000" stroke-width="4.5"/>
<g font-size="33" text-anchor="middle">
<text x="290.5" y="1840">Stem cell markers</text>
<text x="907" y="1840">Tenogenic differentiation markers</text>
<text x="1691" y="1840">Chondrogenic differentiation markers</text>
</g>
<rect x="1717" y="1868" width="64" height="23" fill="#f9a03f" stroke="#000" stroke-width="4"/>
<text x="1797" y="1891" font-size="33">Ctrl</text>
<rect x="1885" y="1868" width="63" height="23" fill="#54a0f8" stroke="#000" stroke-width="4"/>
<text x="1963" y="1891" font-size="33">ZSTK</text>
</svg>
</body></html>
